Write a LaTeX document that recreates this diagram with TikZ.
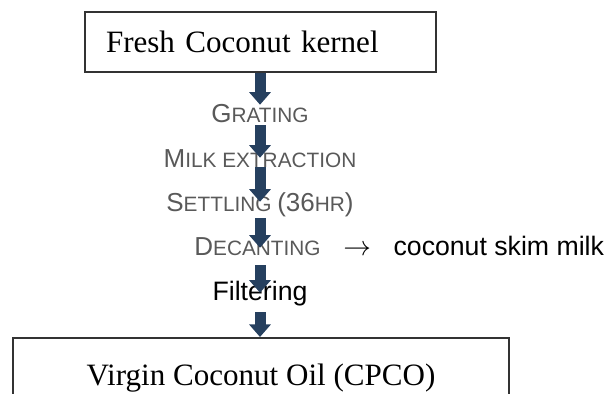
\documentclass[tikz,border=0pt]{standalone}
\usepackage{fontspec}
\setmainfont{Liberation Serif}
\setsansfont{Liberation Sans}
\usetikzlibrary{arrows.meta}
\definecolor{stepgray}{HTML}{595959}
\definecolor{flowblue}{HTML}{26405F}
\newcommand\lgcap[1]{{\fontsize{19.5pt}{23pt}\selectfont #1}}
\newcommand\smcap[1]{{\fontsize{15.6pt}{19pt}\selectfont #1}}

\begin{document}
\begin{tikzpicture}[x=0.75pt,y=-0.75pt,
  procbox/.style={draw=black!80,line width=1.5pt,rectangle,font=\fontsize{23.3pt}{28pt}\selectfont},
  stepcap/.style={anchor=base,inner sep=0pt,text height=13.5pt,text depth=2.25pt,text=stepgray,font=\sffamily},
  steptext/.style={stepcap,text=black,font=\sffamily\fontsize{20pt}{24pt}\selectfont},
  flowarrow/.style={flowblue,line width=8.25pt,-{Triangle[width=15.75pt,length=9.4pt]},shorten >=-6.75pt}]
\useasboundingbox (0,0) rectangle (609,393);
\clip (0,0) rectangle (609,393);
\node[procbox,minimum width=263.25pt,minimum height=45pt,inner xsep=15.75pt,inner ysep=0pt,text width=231.75pt,align=left] (kernel) at (260.5,42) {Fresh Coconut kernel};
\node[stepcap] (grating) at (260,122) {\lgcap{G}\smcap{RATING}};
\node[stepcap] (milk) at (260,167) {\lgcap{M}\smcap{ILK EXTRACTION}};
\node[stepcap] (settling) at (260,211) {\lgcap{S}\smcap{ETTLING }\lgcap{(36}\smcap{HR}\lgcap{)}};
\node[stepcap] (decant) at (257.5,255) {\lgcap{D}\smcap{ECANTING}};
\node[steptext,anchor=base west] (skim) at (343,255) {$\rightarrow$\hspace{17pt}coconut skim milk};
\node[steptext] (filter) at (260,300) {Filtering};
\node[procbox,anchor=north,minimum width=372pt,minimum height=60pt] (cpco) at (261,337) {Virgin Coconut Oil (CPCO)};
\draw[flowarrow,shorten >=-0.75pt] (kernel.south -| grating) -- (grating.north);
\draw[flowarrow] (grating.south) -- (milk.north);
\draw[flowarrow,shorten <=-2.25pt] (milk.south) -- (settling.north);
\draw[flowarrow,shorten <=3pt,shorten >=-8.25pt] (settling.south) -- (settling.south |- decant.north);
\draw[flowarrow,shorten <=5.25pt,shorten >=-8.25pt] (filter.north |- decant.south) -- (filter.north);
\draw[flowarrow,shorten <=6.75pt,shorten >=0pt] (filter.south) -- (filter.south |- cpco.north);
\end{tikzpicture}
\end{document}
